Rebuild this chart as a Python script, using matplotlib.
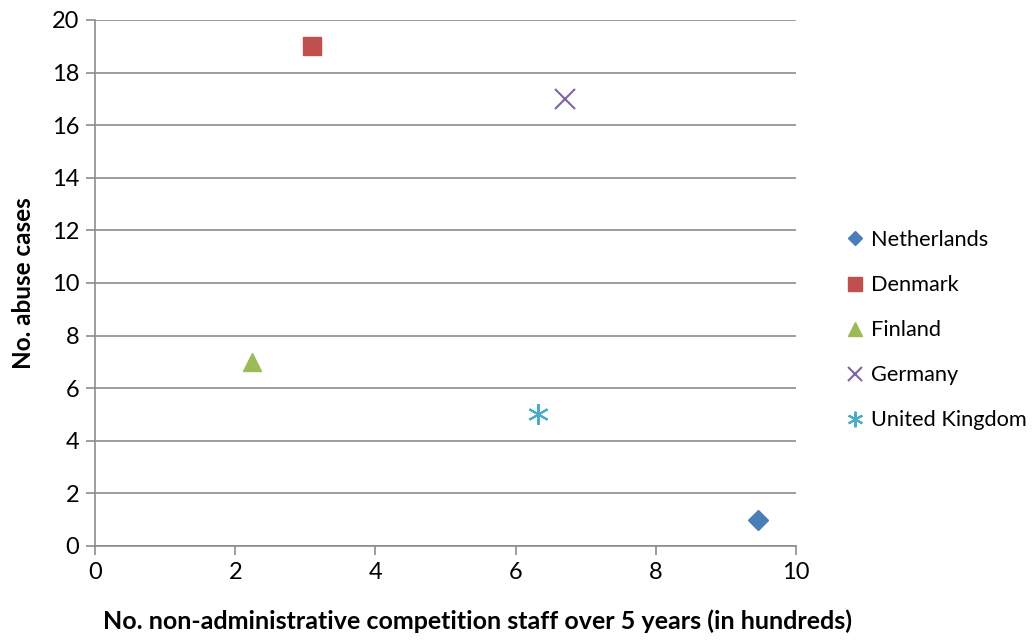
import matplotlib.pyplot as plt

plt.rcParams['font.family'] = ['Lato', 'DejaVu Sans']

countries = ['Netherlands', 'Denmark', 'Finland', 'Germany', 'United Kingdom']
staff = [9.46, 3.10, 2.24, 6.70, 6.32]
cases = [1, 19, 7, 17, 5]
colors = ['#4A7EBB', '#C0504D', '#9BBB59', '#8064A2', '#4BACC6']
markers = ['D', 's', '^', 'x', '*']
sizes = [10, 13, 13, 14, 15]

fig = plt.figure(figsize=(10.33, 6.4), dpi=100)
ax = fig.add_axes([0.092, 0.147, 0.6786, 0.8218])

for name, x, y, c, m, s in zip(countries, staff, cases, colors, markers, sizes):
    if m == '*':
        # asterisk style marker (x plus vertical line)
        ax.plot(x, y, linestyle='none', marker=(6, 2, 0), markersize=s, color=c,
                markeredgewidth=1.5, label=name)
    elif m == 'x':
        ax.plot(x, y, linestyle='none', marker='x', markersize=s, color=c,
                markeredgewidth=1.5, label=name)
    else:
        ax.plot(x, y, linestyle='none', marker=m, markersize=s, color=c,
                markeredgecolor=c, label=name)

ax.set_xlim(0, 10)
ax.set_ylim(0, 20)
ax.set_xticks(range(0, 11, 2))
ax.set_yticks(range(0, 21, 2))
ax.yaxis.grid(True, color='#8c8c8c', linewidth=1.2)
ax.set_axisbelow(True)
for side in ['top', 'right']:
    ax.spines[side].set_visible(False)
for side in ['left', 'bottom']:
    ax.spines[side].set_color('#8c8c8c')
    ax.spines[side].set_linewidth(1.2)
ax.tick_params(axis='both', direction='out', length=6.5, color='#8c8c8c',
               width=1.2, labelsize=17, pad=5)

ax.set_xlabel('No. non-administrative competition staff over 5 years (in hundreds)',
              fontsize=18, fontweight='bold')
ax.xaxis.set_label_coords(0.545, -0.12)
ax.set_ylabel('No. abuse cases', fontsize=17.5, fontweight='bold', labelpad=12)

ax.legend(loc='center left', bbox_to_anchor=(1.025, 0.41), frameon=False,
          fontsize=15.7, handletextpad=-0.25, labelspacing=1.15, markerscale=0.75,
          handlelength=2.0)

fig.savefig('out.png', dpi=100)
